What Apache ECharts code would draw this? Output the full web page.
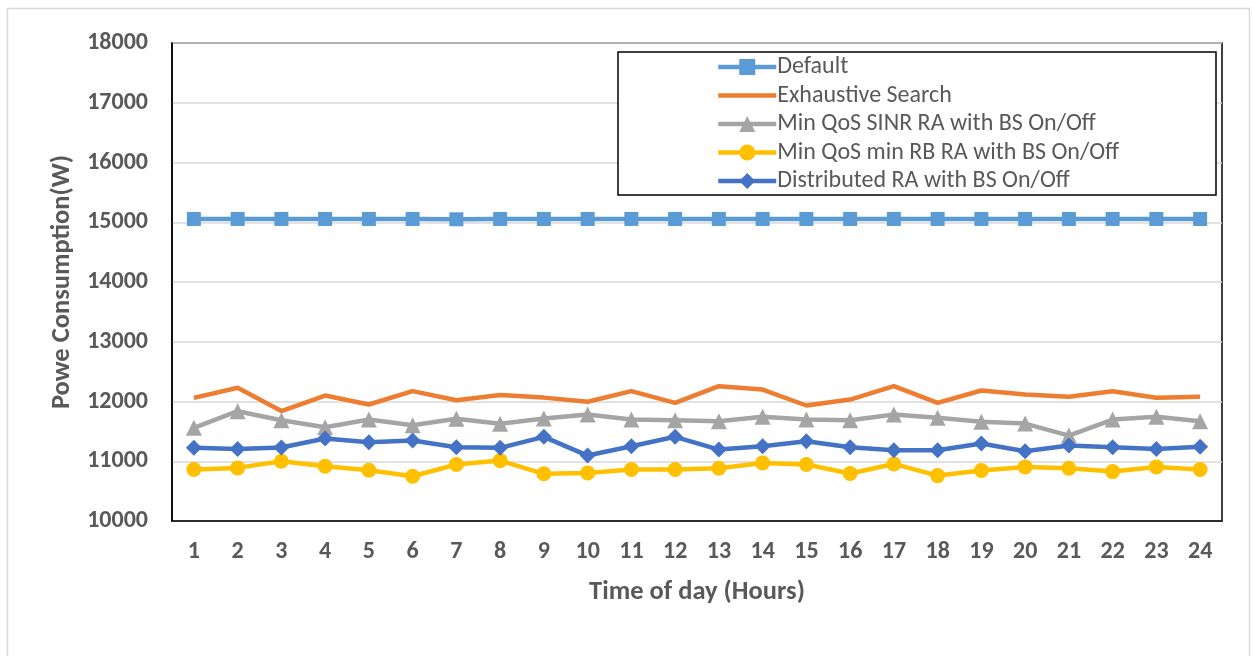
<!DOCTYPE html>
<html>
<head>
<meta charset="utf-8">
<script src="https://cdn.jsdelivr.net/npm/echarts@6/dist/echarts.min.js"></script>
<style>html,body{margin:0;padding:0;background:#fff}#c{width:1253px;height:656px}</style>
</head>
<body>
<div id="c"></div>
<script>
const hours = ['1','2','3','4','5','6','7','8','9','10','11','12','13','14','15','16','17','18','19','20','21','22','23','24'];
const defaultVals = [15055,15055,15055,15055,15055,15055,15050,15055,15055,15055,15055,15055,15055,15055,15055,15055,15055,15055,15055,15055,15055,15055,15055,15055];
const exhaustive = [12060,12230,11840,12100,11950,12173,12022,12110,12065,11995,12173,11978,12257,12200,11933,12033,12257,11978,12184,12117,12078,12173,12062,12078];
const sinrRA = [11559,11838,11687,11570,11698,11603,11710,11626,11715,11782,11698,11687,11670,11743,11698,11687,11782,11727,11660,11631,11430,11698,11743,11670];
const minRB = [10861,10889,11000,10916,10850,10749,10945,11011,10790,10805,10861,10861,10883,10972,10945,10794,10955,10760,10844,10905,10883,10827,10905,10861];
const distributed = [11224,11207,11230,11380,11318,11347,11235,11224,11409,11095,11251,11409,11196,11251,11335,11235,11185,11185,11297,11168,11263,11235,11207,11241];
const seriesNames = ['Default','Exhaustive Search','Min QoS SINR RA with BS On/Off','Min QoS min RB RA with BS On/Off','Distributed RA with BS On/Off'];

const chart = echarts.init(document.getElementById('c'), null, {renderer:'canvas'});
const font = 'Carlito, Calibri, Lato, "Liberation Sans", sans-serif';
const lineW = 4.5;
function mk(name, data, color, symbol, size){
  return {name, type:'line', data, symbol: symbol || 'none', symbolSize: size || 0,
    showSymbol: !!symbol, lineStyle:{color, width:lineW}, itemStyle:{color},
    emphasis:{disabled:true}, animation:false, z: 3};
}
const legendData = seriesNames.map(function(n, i){
  if (i === 1) return {name:n, icon:'path://M0,0 L57,0 L57,4.5 L0,4.5 Z'};
  return {name:n};
});
chart.setOption({
  animation:false,
  backgroundColor:'#fff',
  textStyle:{fontFamily:font},
  graphic:[
    {type:'rect', shape:{x:7.5, y:8.5, width:1242, height:660}, style:{fill:'none', stroke:'#d9d9d9', lineWidth:1.5}, silent:true, z:-1},
    {type:'rect', shape:{x:618, y:52, width:598, height:143}, style:{fill:'#fff', stroke:'#000', lineWidth:1.5}, silent:true, z:10}
  ],
  grid:{left:172, right:31, top:43, bottom:135, show:true, borderColor:'#000', borderWidth:1.5, backgroundColor:'transparent'},
  legend:{
    orient:'vertical', left:716, top:55, padding:0, itemWidth:58, itemHeight:20, itemGap:4.5, z:20,
    data:legendData, symbolKeepAspect:true,
    lineStyle:{width:4.5},
    textStyle:{fontSize:24, color:'#595959', fontFamily:font, padding:[0,0,0,-4]},
    selectedMode:false
  },
  xAxis:{
    type:'category', data:hours, boundaryGap:true,
    name:'Time of day (Hours)', nameLocation:'middle', nameGap:58,
    nameTextStyle:{fontSize:26.5, fontWeight:'bold', color:'#595959', fontFamily:font},
    axisLine:{lineStyle:{color:'#000', width:1.5}}, axisTick:{show:false},
    axisLabel:{fontSize:24, fontWeight:'bold', color:'#595959', margin:19, fontFamily:font}
  },
  yAxis:{
    type:'value', min:10000, max:18000, interval:1000,
    name:'Powe Consumption(W)', nameLocation:'middle', nameGap:94, nameRotate:90,
    nameTextStyle:{fontSize:26.5, fontWeight:'bold', color:'#595959', fontFamily:font},
    axisLine:{show:true, lineStyle:{color:'#000', width:1.5}}, axisTick:{show:false},
    splitLine:{lineStyle:{color:'#d9d9d9', width:1.5}},
    axisLabel:{fontSize:24, fontWeight:'bold', color:'#595959', margin:24, fontFamily:font,
      formatter:function(v){return String(v);}}
  },
  series:[
    mk(seriesNames[0], defaultVals, '#5B9BD5', 'rect', 14),
    mk(seriesNames[1], exhaustive, '#ED7D31', null, 0),
    mk(seriesNames[2], sinrRA, '#A5A5A5', 'triangle', 16),
    mk(seriesNames[3], minRB, '#FFC000', 'circle', 15),
    mk(seriesNames[4], distributed, '#4472C4', 'diamond', 16)
  ]
});
</script>
</body>
</html>
